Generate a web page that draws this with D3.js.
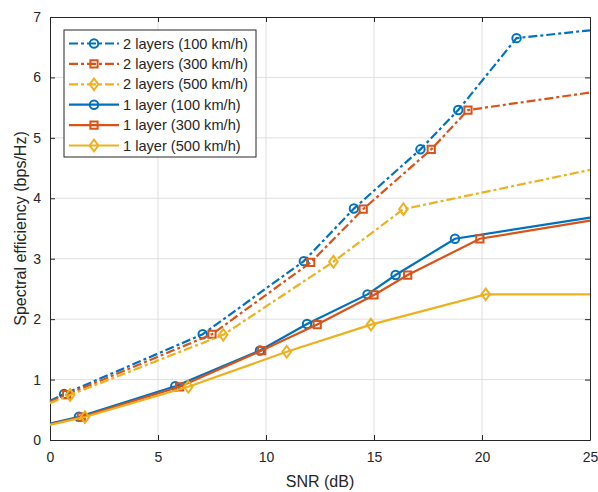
<!DOCTYPE html>
<html>
<head>
<meta charset="utf-8">
<script src="https://cdn.jsdelivr.net/npm/d3@7"></script>
<style>
  body { margin: 0; background: #fff; }
  text { font-family: "Liberation Sans", Arial, sans-serif; fill: #262626; }
</style>
</head>
<body>
<div id="chart"></div>
<script>
// data (first and last points carry no marker)
var xTicks = [0, 5, 10, 15, 20, 25];
var yTicks = [0, 1, 2, 3, 4, 5, 6, 7];

var snr2L100 = [0, 0.65, 7.07, 11.75, 14.07, 17.15, 18.9, 21.6, 25];
var se2L100  = [0.65, 0.76, 1.75, 2.96, 3.83, 4.81, 5.46, 6.65, 6.78];
var snr2L300 = [0, 0.77, 7.5, 12.07, 14.5, 17.65, 19.35, 25];
var se2L300  = [0.63, 0.75, 1.75, 2.94, 3.82, 4.81, 5.46, 5.75];
var snr2L500 = [0, 0.93, 8.02, 13.12, 16.36, 25];
var se2L500  = [0.61, 0.745, 1.74, 2.95, 3.82, 4.47];
var snr1L100 = [0, 1.34, 5.8, 9.72, 11.9, 14.7, 16.0, 18.75, 25];
var se1L100  = [0.27, 0.385, 0.89, 1.48, 1.92, 2.41, 2.73, 3.33, 3.68];
var snr1L300 = [0, 1.45, 6.0, 9.8, 12.37, 15.0, 16.56, 19.9, 25];
var se1L300  = [0.26, 0.38, 0.88, 1.48, 1.91, 2.40, 2.73, 3.33, 3.63];
var snr1L500 = [0, 1.62, 6.4, 10.96, 14.86, 20.17, 25];
var se1L500  = [0.25, 0.38, 0.88, 1.46, 1.91, 2.41, 2.41];

var names = ["2 layers (100 km/h)", "2 layers (300 km/h)", "2 layers (500 km/h)",
             "1 layer (100 km/h)", "1 layer (300 km/h)", "1 layer (500 km/h)"];

var series = [
    {name: names[0], x: snr2L100, y: se2L100, color: "#0072BD", dash: true,  mark: "circle"},
    {name: names[1], x: snr2L300, y: se2L300, color: "#D95319", dash: true,  mark: "square"},
    {name: names[2], x: snr2L500, y: se2L500, color: "#EDB120", dash: true,  mark: "diamond"},
    {name: names[3], x: snr1L100, y: se1L100, color: "#0072BD", dash: false, mark: "circle"},
    {name: names[4], x: snr1L300, y: se1L300, color: "#D95319", dash: false, mark: "square"},
    {name: names[5], x: snr1L500, y: se1L500, color: "#EDB120", dash: false, mark: "diamond"}
];

var W = 598, H = 492;
var margin = {top: 17, right: 8, bottom: 52, left: 50};
var width = W - margin.left - margin.right,
    height = H - margin.top - margin.bottom;

var svg = d3.select("#chart").append("svg")
    .attr("width", W).attr("height", H)
    .append("g")
    .attr("transform", "translate(" + margin.left + "," + margin.top + ")");

var x = d3.scaleLinear().domain([0, 25]).range([0, width]);
var y = d3.scaleLinear().domain([0, 7]).range([height, 0]);

// grid
svg.selectAll(".gx").data(xTicks.slice(1, -1)).enter().append("line")
    .attr("x1", d => x(d)).attr("x2", d => x(d))
    .attr("y1", 0).attr("y2", height)
    .attr("stroke", "#dfdfdf").attr("stroke-width", 1);
svg.selectAll(".gy").data(yTicks.slice(1, -1)).enter().append("line")
    .attr("x1", 0).attr("x2", width)
    .attr("y1", d => y(d)).attr("y2", d => y(d))
    .attr("stroke", "#dfdfdf").attr("stroke-width", 1);

// axes (ticks inward, box on)
function styleAxis(g) {
    g.select(".domain").attr("stroke", "#262626");
    g.selectAll(".tick line").attr("stroke", "#262626");
    g.selectAll(".tick text").style("font-size", "14px").attr("fill", "#262626");
}
svg.append("g").attr("transform", "translate(0," + height + ")")
    .call(d3.axisBottom(x).tickValues(xTicks).tickFormat(d3.format("d"))
        .tickSizeInner(-5).tickSizeOuter(0).tickPadding(12))
    .call(styleAxis);
svg.append("g")
    .call(d3.axisLeft(y).tickValues(yTicks).tickFormat(d3.format("d"))
        .tickSizeInner(-5).tickSizeOuter(0).tickPadding(9))
    .call(styleAxis);
svg.append("g")
    .call(d3.axisTop(x).tickValues(xTicks).tickSizeInner(-5).tickSizeOuter(0).tickFormat(""))
    .call(styleAxis);
svg.append("g").attr("transform", "translate(" + width + ",0)")
    .call(d3.axisRight(y).tickValues(yTicks).tickSizeInner(-5).tickSizeOuter(0).tickFormat(""))
    .call(styleAxis);

// axis labels
svg.append("text")
    .attr("x", width / 2).attr("y", height + 47)
    .attr("text-anchor", "middle").style("font-size", "16px")
    .text("SNR (dB)");
svg.append("text")
    .attr("transform", "translate(-24," + (height / 2) + ") rotate(-90)")
    .attr("text-anchor", "middle").style("font-size", "16px")
    .text("Spectral efficiency (bps/Hz)");

var dashArr = "9,3,3,3";
var symbols = {circle: d3.symbolCircle, square: d3.symbolSquare};
var symSize = {circle: 56, square: 52};

function marker(g, type, color) {
    var d = type === "diamond" ? "M0,-5.8L4.3,0L0,5.8L-4.3,0Z"
        : d3.symbol().type(symbols[type]).size(symSize[type])();
    g.append("path")
        .attr("d", d)
        .attr("fill", "none").attr("stroke", color).attr("stroke-width", 2);
}

var line = d3.line().x(d => x(d[0])).y(d => y(d[1]));

var plot = svg.append("g");
series.forEach(function (s) {
    var pts = s.x.map((v, i) => [v, s.y[i]]);
    plot.append("path")
        .datum(pts)
        .attr("d", line)
        .attr("fill", "none")
        .attr("stroke", s.color)
        .attr("stroke-width", 2.2)
        .attr("stroke-dasharray", s.dash ? dashArr : null);
    pts.slice(1, -1).forEach(function (p) {
        var g = plot.append("g").attr("transform", "translate(" + x(p[0]) + "," + y(p[1]) + ")");
        marker(g, s.mark, s.color);
    });
});

// legend
var lg = svg.append("g").attr("transform", "translate(14,13)");
lg.append("rect")
    .attr("width", 192).attr("height", 127)
    .attr("fill", "#fff").attr("stroke", "#262626").attr("stroke-width", 1);
series.forEach(function (s, i) {
    var yy = 13.5 + i * 20.4;
    lg.append("line")
        .attr("x1", 5).attr("x2", 55).attr("y1", yy).attr("y2", yy)
        .attr("stroke", s.color).attr("stroke-width", 2.2)
        .attr("stroke-dasharray", s.dash ? dashArr : null);
    var g = lg.append("g").attr("transform", "translate(30," + yy + ")");
    marker(g, s.mark, s.color);
    lg.append("text")
        .attr("x", 59).attr("y", yy + 5)
        .style("font-size", "14.6px")
        .text(s.name);
});
</script>
</body>
</html>
